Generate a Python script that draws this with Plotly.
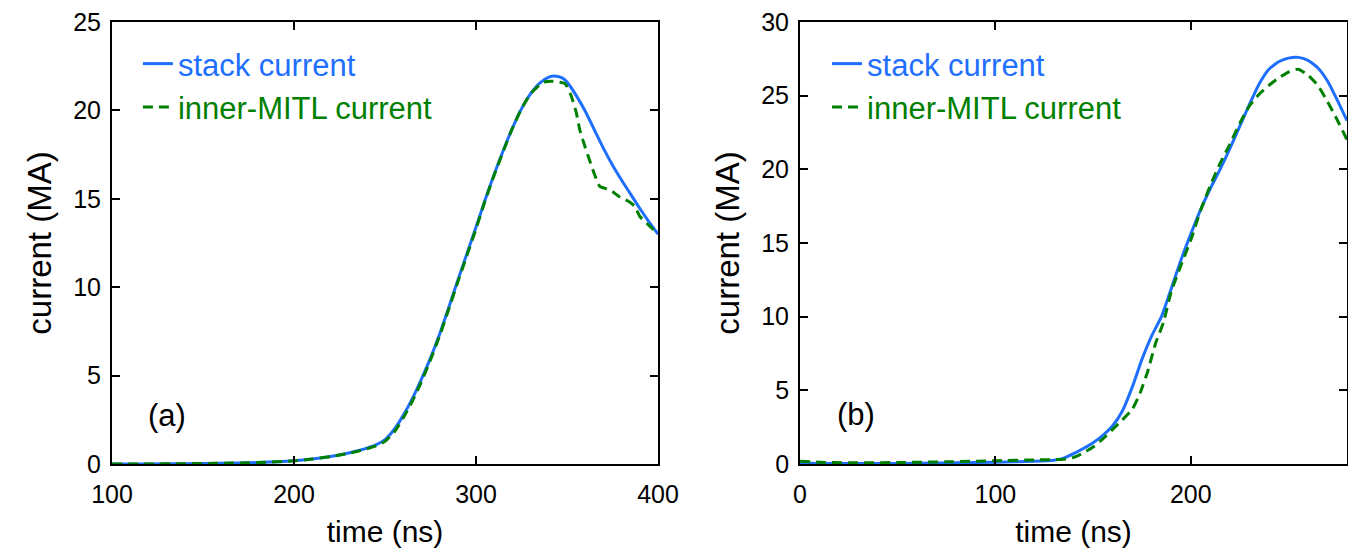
import plotly.graph_objects as go

# ---- panel (a) ----
ta_stack = [100, 120, 140, 160, 180, 200, 210, 220, 230, 235, 240, 245, 250, 255, 260, 265,
            270, 275, 280, 285, 290, 295, 300, 305, 310, 315, 320, 325, 330, 335, 340,
            343, 347, 350, 355, 360, 365, 370, 375, 380, 385, 390, 395, 400]
ia_stack = [0.0, 0.0, 0.02, 0.04, 0.08, 0.18, 0.28, 0.42, 0.62, 0.75, 0.9, 1.08, 1.38, 1.95, 2.75, 3.7,
            4.8, 6.0, 7.35, 8.85, 10.4, 11.9, 13.4, 14.95, 16.4, 17.75, 19.0, 20.1, 20.95, 21.55, 21.88,
            21.95, 21.85, 21.6, 20.85, 19.95, 18.9, 17.85, 16.9, 16.05, 15.25, 14.45, 13.7, 13.0]

ta_mitl = [100, 120, 140, 160, 180, 200, 210, 220, 230, 235, 240, 245, 250, 255, 260, 265,
           270, 275, 280, 285, 290, 295, 300, 305, 310, 315, 320, 325, 330, 335, 338,
           342, 346, 349, 352, 355, 357, 360, 362, 365, 368, 372, 375, 379, 383, 387,
           390, 395, 400]
ia_mitl = [0.0, 0.0, 0.02, 0.04, 0.08, 0.18, 0.28, 0.42, 0.6, 0.72, 0.86, 1.02, 1.28, 1.8, 2.6, 3.55,
           4.65, 5.9, 7.25, 8.75, 10.3, 11.8, 13.3, 14.9, 16.35, 17.7, 19.0, 20.1, 20.95, 21.45, 21.62,
           21.65, 21.6, 21.5, 20.9, 19.9, 18.9, 17.9, 17.3, 16.4, 15.7, 15.55, 15.4, 15.1, 14.9, 14.6,
           14.0, 13.5, 13.0]

# ---- panel (b) ----
tb_stack = [0, 20, 40, 60, 80, 100, 120, 130, 135, 140, 145, 150, 155, 160, 165, 170, 175,
            180, 185, 190, 195, 200, 205, 210, 215, 220, 225, 230, 235, 240, 245, 250, 255,
            260, 265, 270, 275, 280]
ib_stack = [0.05, 0.03, 0.03, 0.05, 0.08, 0.12, 0.18, 0.25, 0.4, 0.7, 1.05, 1.45, 1.95, 2.6, 3.6,
            5.2, 7.1, 8.7, 10.0, 11.9, 13.85, 15.6, 17.25, 18.7, 20.0, 21.4, 22.9, 24.4, 25.8,
            26.8, 27.3, 27.55, 27.6, 27.4, 26.9, 26.0, 24.7, 23.3]

tb_mitl = [0, 10, 25, 50, 75, 100, 120, 130, 135, 140, 145, 150, 155, 160, 165, 170, 174,
           178, 182, 186, 190, 195, 200, 205, 210, 215, 220, 225, 230, 235, 240, 245, 250,
           255, 260, 265, 270, 275, 280]
ib_mitl = [0.18, 0.12, 0.08, 0.1, 0.15, 0.22, 0.28, 0.3, 0.32, 0.45, 0.75, 1.15, 1.7, 2.35, 3.0,
           3.7, 4.8, 6.3, 8.2, 9.6, 11.7, 13.5, 15.2, 17.2, 18.9, 20.4, 21.7, 23.1, 24.3, 25.1,
           25.7, 26.2, 26.6, 26.8, 26.4, 25.7, 24.6, 23.35, 22.0]

xa_ticks = [100, 200, 300, 400]
ya_ticks = [0, 5, 10, 15, 20, 25]
xb_ticks = [0, 100, 200]
yb_ticks = [0, 5, 10, 15, 20, 25, 30]

BLUE = "#1f6fff"
GREEN = "#008000"
REG = "Liberation Sans, Arial, sans-serif"

def lbl(text, color):
    return f"<span style='color:{color}'>{text}</span>"

fig = go.Figure()

fig.add_trace(go.Scatter(x=ta_stack, y=ia_stack, mode="lines", name=lbl("stack current", BLUE),
                         line=dict(color=BLUE, width=3, shape="spline", smoothing=0.6),
                         xaxis="x", yaxis="y", legend="legend", legendgroup="a1"))
fig.add_trace(go.Scatter(x=ta_mitl, y=ia_mitl, mode="lines", name=lbl("inner-MITL current", GREEN),
                         line=dict(color=GREEN, width=3, dash="10px,6px", shape="spline", smoothing=0.5),
                         xaxis="x", yaxis="y", legend="legend", legendgroup="a2"))
fig.add_trace(go.Scatter(x=tb_stack, y=ib_stack, mode="lines", name=lbl("stack current", BLUE),
                         line=dict(color=BLUE, width=3, shape="spline", smoothing=0.5),
                         xaxis="x2", yaxis="y2", legend="legend2", legendgroup="b1"))
fig.add_trace(go.Scatter(x=tb_mitl, y=ib_mitl, mode="lines", name=lbl("inner-MITL current", GREEN),
                         line=dict(color=GREEN, width=3, dash="10px,6px", shape="spline", smoothing=0.5),
                         xaxis="x2", yaxis="y2", legend="legend2", legendgroup="b2"))

axis_common = dict(showgrid=False, zeroline=False, showline=True, linecolor="black", linewidth=2,
                   mirror="ticks", ticks="inside", ticklen=8, tickwidth=2, tickcolor="black",
                   automargin=False, ticklabeloverflow="allow",
                   tickfont=dict(family=REG, size=25, color="black"))

xtitle_font = dict(family=REG, size=30, color="black")
ytitle_font = dict(family=REG, size=33, color="black")
legend_font = dict(family=REG, size=31)

fig.update_layout(
    width=1356, height=554,
    margin=dict(l=0, r=0, t=0, b=0),
    paper_bgcolor="white", plot_bgcolor="white",
    showlegend=True,
    xaxis=dict(domain=[0.0767, 0.4794], range=[100, 400], tickvals=xa_ticks, ticklabelstandoff=7,
               title=dict(text="time (ns)", font=xtitle_font, standoff=14), anchor="y", **axis_common),
    yaxis=dict(domain=[0.1769, 0.9747], range=[0, 25], tickvals=ya_ticks, ticklabelstandoff=4,
               title=dict(text="current (MA)", font=ytitle_font, standoff=12), anchor="x", **axis_common),
    xaxis2=dict(domain=[0.5841, 0.9875], range=[0, 280], tickvals=xb_ticks, ticklabelstandoff=7,
                title=dict(text="time (ns)", font=xtitle_font, standoff=14), anchor="y2", **axis_common),
    yaxis2=dict(domain=[0.1769, 0.9747], range=[0, 30], tickvals=yb_ticks, ticklabelstandoff=4,
                title=dict(text="current (MA)", font=ytitle_font, standoff=12), anchor="x2", **axis_common),
    legend=dict(x=0.0958, y=0.9477, xanchor="left", yanchor="top", bgcolor="rgba(0,0,0,0)",
                font=legend_font, traceorder="grouped", tracegroupgap=0, itemwidth=30),
    legend2=dict(x=0.604, y=0.9477, xanchor="left", yanchor="top", bgcolor="rgba(0,0,0,0)",
                 font=legend_font, traceorder="grouped", tracegroupgap=0, itemwidth=30),
    annotations=[
        dict(text="(a)", x=0.1173, y=2.77, xref="paper", yref="y", showarrow=False,
             xanchor="center", yanchor="middle", font=dict(family=REG, size=31, color="black")),
        dict(text="(b)", x=0.6254, y=3.33, xref="paper", yref="y2", showarrow=False,
             xanchor="center", yanchor="middle", font=dict(family=REG, size=31, color="black")),
    ],
)

fig.write_html("out.html")
